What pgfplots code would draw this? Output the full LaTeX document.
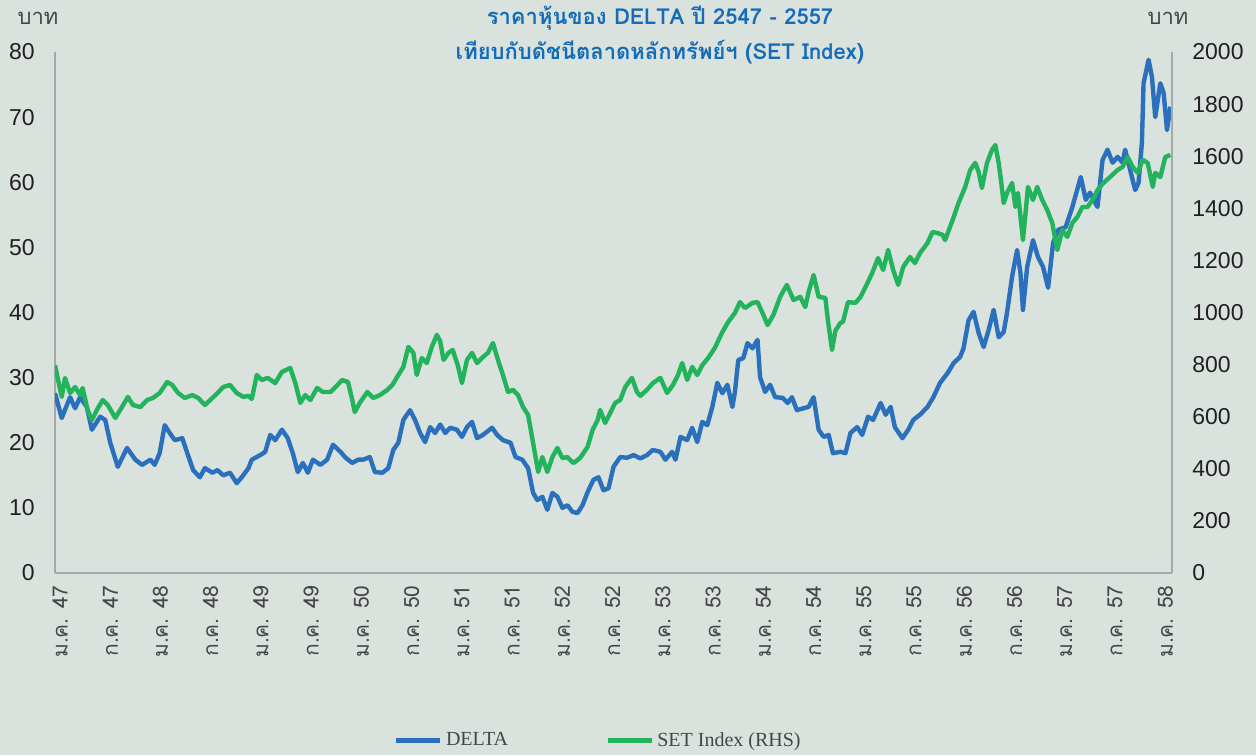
\documentclass[border=0pt]{standalone}
\usepackage{fontspec}
\setmainfont{Liberation Sans}
\newfontfamily\thaifont[Script=Thai]{Loma}
\newfontfamily\legfont{Liberation Serif}
\usepackage{pgfplots}
\usepackage{pgfplotstable}
\pgfplotsset{compat=1.18}

\definecolor{bg}{RGB}{218,226,221}
\definecolor{deltablue}{RGB}{42,112,188}
\definecolor{setgreen}{RGB}{34,179,92}
\definecolor{titleblue}{RGB}{20,108,184}
\definecolor{axisgrey}{RGB}{165,170,168}
\definecolor{txt}{RGB}{35,31,32}
\definecolor{txtgrey}{RGB}{70,70,70}

% DELTA, baht (month 0 = Jan 2547)
\pgfplotstableread{
m v
-0.6 27.6
0.2 23.8
1.2 27.0
1.8 25.3
2.4 27.0
3.2 25.5
3.8 22.0
4.8 24.0
5.4 23.5
6.0 20.0
6.9 16.3
8.0 19.2
9.0 17.4
9.8 16.6
10.8 17.4
11.3 16.6
11.9 18.4
12.5 22.7
13.1 21.5
13.7 20.4
14.6 20.7
15.2 18.4
15.9 15.8
16.7 14.7
17.3 16.1
18.2 15.4
18.8 15.8
19.5 15.0
20.3 15.4
21.1 13.8
21.7 14.7
22.5 16.1
22.9 17.4
23.9 18.1
24.5 18.6
25.1 21.2
25.7 20.4
26.5 22.0
27.2 20.7
27.8 18.4
28.4 15.5
29.0 16.9
29.6 15.4
30.2 17.4
31.1 16.6
31.9 17.4
32.6 19.7
33.5 18.6
34.1 17.7
34.9 16.9
35.6 17.4
36.2 17.4
37.0 17.8
37.6 15.5
38.5 15.4
39.2 16.1
39.8 18.9
40.4 20.0
41.0 23.5
41.8 25.0
42.4 23.5
43.0 21.5
43.6 20.1
44.2 22.4
44.8 21.5
45.4 22.8
46.0 21.5
46.6 22.3
47.4 22.0
48.0 20.9
48.6 22.4
49.2 23.2
49.8 20.7
50.5 21.2
51.6 22.3
52.2 21.2
52.9 20.4
53.8 20.0
54.4 17.8
55.2 17.4
55.9 16.1
56.5 12.3
57.0 11.2
57.6 11.7
58.2 9.7
58.8 12.3
59.4 11.7
60.0 10.0
60.6 10.4
61.2 9.4
61.8 9.2
62.4 10.4
63.0 12.4
63.7 14.3
64.3 14.7
64.9 12.7
65.5 13.0
66.1 16.3
66.9 17.8
67.7 17.7
68.5 18.1
69.3 17.6
70.1 18.1
70.8 18.9
71.7 18.6
72.3 17.4
73.1 18.6
73.5 17.4
74.1 20.9
74.9 20.4
75.5 22.3
76.1 20.1
76.7 23.2
77.3 22.7
77.9 25.5
78.5 29.2
79.1 27.6
79.7 28.9
80.3 25.5
80.6 27.8
81.0 32.7
81.6 33.0
82.1 35.3
82.7 34.5
83.3 35.8
83.6 30.1
84.2 27.8
84.8 28.9
85.4 27.0
86.3 26.9
86.9 26.1
87.4 27.0
88.0 25.0
88.8 25.3
89.4 25.5
90.0 27.0
90.6 22.0
91.2 20.9
91.8 21.2
92.3 18.4
93.2 18.6
93.8 18.4
94.4 21.5
95.2 22.4
95.8 21.2
96.5 24.0
97.1 23.5
98.0 26.1
98.6 24.3
99.2 25.5
99.7 22.4
100.6 20.7
101.3 22.0
101.9 23.5
102.7 24.3
103.6 25.5
104.3 27.0
105.1 29.2
106.0 30.7
106.7 32.2
107.5 33.2
107.9 34.5
108.5 38.8
109.1 40.1
109.7 36.9
110.3 34.7
110.9 37.3
111.5 40.4
112.1 36.2
112.7 37.0
113.1 40.0
113.7 45.5
114.3 49.6
114.7 46.1
115.0 40.4
115.5 47.0
116.2 51.1
116.8 48.5
117.4 47.0
118.0 43.8
118.6 50.7
119.2 52.7
120.1 53.1
120.9 56.2
121.9 60.8
122.5 57.3
123.0 58.4
123.9 56.2
124.5 63.4
125.1 65.0
125.7 63.0
126.3 63.9
126.9 63.0
127.2 65.0
127.8 61.9
128.4 58.8
128.8 59.9
129.2 66.0
129.4 75.2
130.0 78.8
130.4 76.2
130.8 70.0
131.4 75.2
131.8 73.7
132.2 68.0
132.6 71.6
}\deltadata

% SET Index, points
\pgfplotstableread{
m v
-0.6 798
0.2 676
0.6 749
1.2 691
1.8 714
2.4 683
2.7 710
3.3 626
3.8 587
4.4 626
5.1 664
5.7 645
6.6 595
7.4 637
8.1 676
8.7 645
9.6 637
10.4 664
11.1 672
11.9 691
12.8 733
13.4 722
14.1 691
14.9 672
15.8 683
16.5 672
17.3 645
18.2 672
18.8 691
19.5 714
20.3 722
21.1 691
21.9 676
22.5 680
22.9 668
23.5 760
24.1 741
24.8 749
25.7 729
26.5 772
27.5 787
28.1 729
28.7 653
29.3 683
29.9 664
30.7 710
31.4 695
32.3 695
32.9 714
33.7 741
34.4 733
34.9 664
35.2 618
35.8 653
36.7 695
37.4 672
38.2 683
39.1 703
39.7 722
40.4 760
41.0 791
41.6 868
42.2 845
42.6 760
43.2 825
43.8 806
44.4 868
45.0 914
45.4 890
45.8 818
46.4 845
46.9 856
47.5 798
48.0 729
48.6 818
49.2 845
49.8 806
50.5 829
51.1 845
51.7 883
52.3 818
52.9 760
53.5 695
54.1 703
54.7 683
55.3 637
55.9 607
56.5 499
57.1 388
57.6 445
58.2 388
58.8 445
59.4 480
60.0 441
60.6 445
61.3 422
62.1 441
63.0 484
63.6 549
64.2 587
64.5 626
65.1 576
65.7 614
66.3 653
66.9 664
67.5 714
68.3 749
68.9 695
69.3 680
70.1 703
70.8 729
71.7 749
72.5 691
73.2 722
73.8 760
74.3 806
74.9 741
75.5 791
76.1 760
76.7 798
77.4 825
78.2 864
79.1 925
79.8 964
80.6 998
81.2 1040
81.8 1017
82.7 1037
83.3 1040
83.9 998
84.5 952
85.2 991
86.0 1060
86.8 1106
87.6 1048
88.4 1060
89.0 1021
89.4 1079
90.0 1144
90.6 1060
91.4 1056
91.7 971
92.2 856
92.6 930
93.2 960
93.5 964
94.1 1040
95.0 1037
95.6 1060
96.2 1098
97.0 1152
97.7 1209
98.3 1163
98.9 1240
99.5 1163
100.1 1106
100.7 1175
101.5 1213
102.1 1190
102.7 1228
103.6 1267
104.2 1309
104.8 1305
105.4 1298
105.7 1278
106.6 1355
107.3 1420
108.1 1482
108.7 1547
109.3 1574
109.7 1540
110.1 1478
110.7 1574
111.3 1624
111.7 1643
112.1 1574
112.4 1500
112.7 1420
113.1 1459
113.7 1497
114.1 1405
114.4 1459
115.0 1278
115.6 1482
116.2 1432
116.7 1482
117.3 1432
117.9 1393
118.5 1344
119.1 1240
119.7 1317
120.3 1290
120.9 1344
121.5 1367
122.1 1405
122.7 1405
123.3 1432
123.9 1470
124.6 1497
125.4 1520
126.3 1547
126.9 1559
127.5 1597
128.1 1559
128.7 1536
129.3 1586
129.9 1574
130.5 1482
130.8 1536
131.4 1520
132.0 1597
132.6 1605
}\setdata

\pgfplotsset{
  base/.style={
    at={(27.5pt,91pt)}, anchor=south west,
    scale only axis, width=558.5pt, height=260.5pt,
    xmin=-0.6, xmax=132.8,
    axis line style={axisgrey, line width=1pt, -},
    tick style={draw=none},
    /pgf/number format/assume math mode=true,
    /pgf/number format/1000 sep={},
    scaled ticks=false,
    yticklabel style={inner sep=0pt, font=\fontsize{11.5}{12}\selectfont, text=txt},
    yticklabel shift=10pt,
  }
}

\begin{document}
\begin{tikzpicture}
\fill[bg] (0,0) rectangle (628pt,377.5pt);

\begin{axis}[base,
  ymin=0, ymax=80,
  axis x line*=bottom, axis y line*=left,
  ytick={0,10,...,80},
  xtick={0,6,...,132},
  xticklabels={{ม.ค. 47},{ก.ค. 47},{ม.ค. 48},{ก.ค. 48},{ม.ค. 49},{ก.ค. 49},{ม.ค. 50},{ก.ค. 50},{ม.ค. 51},{ก.ค. 51},{ม.ค. 52},{ก.ค. 52},{ม.ค. 53},{ก.ค. 53},{ม.ค. 54},{ก.ค. 54},{ม.ค. 55},{ก.ค. 55},{ม.ค. 56},{ก.ค. 56},{ม.ค. 57},{ก.ค. 57},{ม.ค. 58}},
  xticklabel style={rotate=90, anchor=east, inner sep=0pt, font=\thaifont\fontsize{10.5}{11}\selectfont, text=txtgrey},
  xticklabel shift=6pt,
]
\addplot[deltablue, line width=2.2pt, line join=round] table[x=m, y=v] {\deltadata};
\end{axis}

\begin{axis}[base,
  ymin=0, ymax=2000,
  axis x line=none, axis y line*=right,
  ytick={0,200,...,2000},
  legend columns=2,
  legend image code/.code={\draw[#1, line width=2.6pt] (0pt,0pt) -- (22pt,0pt);},
  legend style={draw=none, fill=none, inner sep=0pt,
    at={(axis description cs:0.303,-0.322)}, anchor=west,
    font=\legfont\fontsize{10}{12}\selectfont, text=txtgrey,
    nodes={inner sep=1.5pt},
    /tikz/every even column/.append style={column sep=47pt}},
]
\addlegendimage{deltablue, line width=2.2pt}
\addlegendentry{DELTA}
\addplot[setgreen, line width=2.2pt, line join=round] table[x=m, y=v] {\setdata};
\addlegendentry{SET Index (RHS)}
\end{axis}

\node[font=\thaifont\bfseries\fontsize{11}{17.5}\selectfont, text=titleblue, align=center] at (330pt,359.75pt)
  {ราคาหุ้นของ DELTA ปี 2547 - 2557\\เทียบกับดัชนีตลาดหลักทรัพย์ฯ (SET Index)};
\node[font=\thaifont\fontsize{11}{11}\selectfont, text=txtgrey] at (19pt,368.5pt) {บาท};
\node[font=\thaifont\fontsize{11}{11}\selectfont, text=txtgrey] at (584pt,368.5pt) {บาท};

\pgfresetboundingbox
\path (0,0) rectangle (628pt,377.5pt);
\end{tikzpicture}
\end{document}
